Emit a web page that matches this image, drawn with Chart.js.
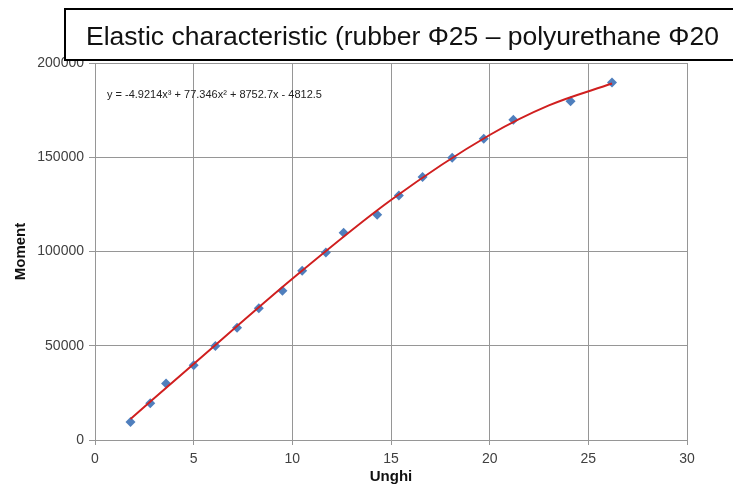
<html>
  <head>
    <script src="https://cdn.jsdelivr.net/npm/chart.js@4/dist/chart.umd.min.js"></script>
    <style>
      body { margin: 0; background: #fff; }
      #wrap { width: 733px; height: 494px; }
    </style>
  </head>
  <body>
    <div id="wrap"><canvas id="chart" width="733" height="494"></canvas></div>
    <script>
      // measured points (angle in degrees, moment)
      var angles  = [1.8, 2.8, 3.6, 5.0, 6.1, 7.2, 8.3, 9.5, 10.5, 11.7, 12.6, 14.3, 15.4, 16.6, 18.1, 19.7, 21.2, 24.1, 26.2];
      var moments = [9500, 19500, 30000, 39700, 49900, 59500, 69900, 79200, 89800, 99500, 110000, 119500, 129700, 139500, 149800, 159800, 169900, 179700, 189600];

      // trend line
      var trendX = [1.8, 5, 10, 15, 20, 23, 26.2];
      var trendY = [11200, 40300, 85500, 127300, 161800, 177500, 189100];

      var xTicks = [0, 5, 10, 15, 20, 25, 30];
      var yTicks = [0, 50000, 100000, 150000, 200000];

      var titleText = 'Elastic characteristic (rubber \u03A625 \u2013 polyurethane \u03A620';
      var equationText = 'y = -4.9214x\u00B3 + 77.346x\u00B2 + 8752.7x - 4812.5';

      var gridColor = '#969696';
      var tickFont = { family: 'Liberation Sans', size: 14 };

      var overlay = {
        id: 'overlay',
        afterDraw: function (chart) {
          var ctx = chart.ctx;
          var area = chart.chartArea;
          ctx.save();
          // equation label
          ctx.fillStyle = '#222';
          ctx.font = '11px "Liberation Sans"';
          ctx.textBaseline = 'middle';
          ctx.fillText(equationText, area.left + 12, area.top + 32);
          // title box
          ctx.fillStyle = '#fff';
          ctx.fillRect(65, 9, 700, 51);
          ctx.strokeStyle = '#000';
          ctx.lineWidth = 2;
          ctx.strokeRect(65, 9, 700, 51);
          ctx.fillStyle = '#111';
          ctx.font = '26.5px "Liberation Sans"';
          ctx.textBaseline = 'alphabetic';
          ctx.fillText(titleText, 86, 45);
          ctx.restore();
        }
      };

      var ctx = document.getElementById('chart').getContext('2d');
      new Chart(ctx, {
        type: 'scatter',
        data: {
          datasets: [
            {
              label: 'trend',
              data: trendX.map(function (x, i) { return { x: x, y: trendY[i] }; }),
              showLine: true,
              borderColor: '#d01f1f',
              borderWidth: 2,
              pointRadius: 0,
              cubicInterpolationMode: 'monotone',
              order: 0
            },
            {
              label: 'Moment',
              data: angles.map(function (x, i) { return { x: x, y: moments[i] }; }),
              pointStyle: 'rectRot',
              pointRadius: 5,
              backgroundColor: '#4f7fbd',
              borderColor: '#4f7fbd',
              borderWidth: 0,
              order: 1
            }
          ]
        },
        options: {
          responsive: false,
          animation: false,
          layout: { padding: { left: 0, top: 63, right: 46, bottom: 0 } },
          plugins: { legend: { display: false }, tooltip: { enabled: false } },
          scales: {
            x: {
              type: 'linear',
              min: 0, max: 30,
              afterBuildTicks: function (s) { s.ticks = xTicks.map(function (v) { return { value: v }; }); },
              afterFit: function (s) { s.height = 54; },
              grid: { color: gridColor, tickLength: 5, drawTicks: true },
              border: { color: gridColor },
              ticks: { color: '#404040', font: tickFont, padding: 6, maxRotation: 0 },
              title: { display: true, text: 'Unghi', color: '#111', font: { family: 'Liberation Sans', size: 15, weight: 'bold' }, padding: { top: 0, bottom: 8 } }
            },
            y: {
              type: 'linear',
              min: 0, max: 200000,
              afterBuildTicks: function (s) { s.ticks = yTicks.map(function (v) { return { value: v }; }); },
              afterFit: function (s) { s.width = 95; },
              grid: { color: gridColor, tickLength: 6, drawTicks: true },
              border: { color: gridColor },
              ticks: { color: '#404040', font: tickFont, padding: 5, callback: function (v) { return String(v); } },
              title: { display: true, text: 'Moment', color: '#111', font: { family: 'Liberation Sans', size: 15, weight: 'bold' }, padding: { top: 12, bottom: 0 } }
            }
          }
        },
        plugins: [overlay]
      });
    </script>
  </body>
</html>
